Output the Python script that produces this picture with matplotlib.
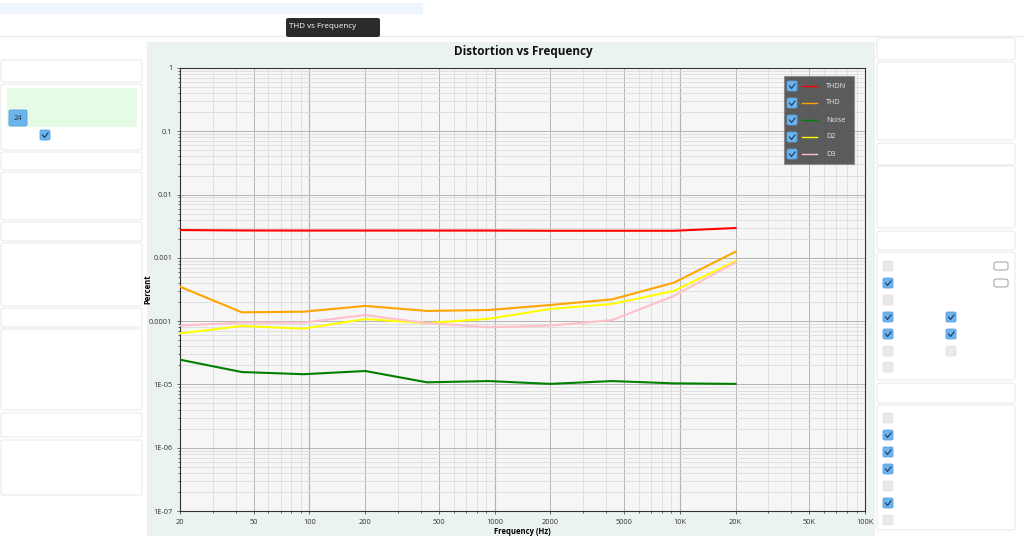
import matplotlib
matplotlib.use("Agg")
import matplotlib.pyplot as plt
from matplotlib.patches import Rectangle, FancyBboxPatch
from matplotlib.ticker import FixedLocator, NullFormatter

plt.rcParams['font.family'] = ['Open Sans', 'DejaVu Sans']

# data
freq = [20, 43.1, 92.8, 200, 431, 928, 2000, 4309, 9283, 20000]
thdn = [0.00275, 0.00271, 0.00270, 0.00270, 0.00270, 0.00270, 0.00268, 0.00268, 0.00268, 0.00296]
thd = [3.5e-4, 1.38e-4, 1.41e-4, 1.74e-4, 1.45e-4, 1.50e-4, 1.80e-4, 2.21e-4, 4.05e-4, 1.25e-3]
noise = [2.46e-5, 1.57e-5, 1.45e-5, 1.63e-5, 1.08e-5, 1.13e-5, 1.02e-5, 1.13e-5, 1.04e-5, 1.02e-5]
d2 = [6.4e-5, 8.4e-5, 7.6e-5, 1.08e-4, 9.3e-5, 1.09e-4, 1.56e-4, 1.87e-4, 3.0e-4, 8.9e-4]
d3 = [8.5e-5, 9.5e-5, 9.5e-5, 1.25e-4, 9.3e-5, 8.0e-5, 8.5e-5, 1.04e-4, 2.5e-4, 8.5e-4]

series_names = ["THDN", "THD", "Noise", "D2", "D3"]
series_colors = ["#ff0000", "#ffa500", "#008000", "#ffff00", "#ffc0cb"]

x_ticks = [20, 50, 100, 200, 500, 1000, 2000, 5000, 10000, 20000, 50000, 100000]
x_labels = ["20", "50", "100", "200", "500", "1000", "2000", "5000", "10K", "20K", "50K", "100K"]
y_ticks = [1e-7, 1e-6, 1e-5, 1e-4, 1e-3, 1e-2, 1e-1, 1]
y_labels = ["1E-07", "1E-06", "1E-05", "0.0001", "0.001", "0.01", "0.1", "1"]

W, H = 1024, 559
fig = plt.figure(figsize=(W / 100, H / 100), dpi=100)
fig.patch.set_facecolor("white")


def box(x, y, w, h, fc="white", ec="#e6e6e6", lw=0.8, z=0, r=0, alpha=1):
    # pixel coords with top-left origin
    if r:
        p = FancyBboxPatch((x / W, 1 - (y + h) / H), w / W, h / H,
                           boxstyle="round,pad=0,rounding_size=%f" % (r / W),
                           transform=fig.transFigure, fc=fc, ec=ec, lw=lw, zorder=z, alpha=alpha)
    else:
        p = Rectangle((x / W, 1 - (y + h) / H), w / W, h / H, transform=fig.transFigure,
                      fc=fc, ec=ec, lw=lw, zorder=z, alpha=alpha)
    fig.patches.append(p)


def ftext(x, y, s, **kw):
    fig.text(x / W, 1 - y / H, s, **kw)


def checkbox(x, y, on=True, size=10):
    if on:
        box(x, y, size, size, fc="#6cb4ee", ec="#5aa0dc", lw=0.6, r=2, z=3)
        fig.lines.append(plt.Line2D([(x + 2.5) / W, (x + 4.5) / W, (x + 8) / W],
                                    [1 - (y + 5) / H, 1 - (y + 7.5) / H, 1 - (y + 3) / H],
                                    transform=fig.transFigure, color="#1d3557", lw=0.8, zorder=4))
    else:
        box(x, y, size, size, fc="#e9e9e9", ec="#e0e0e0", lw=0.5, r=2, z=3)


# top bar and tab
box(0, 3, 423, 11, fc="#eef5fc", ec="none")
fig.lines.append(plt.Line2D([0, 1], [1 - 36 / H, 1 - 36 / H], transform=fig.transFigure,
                            color="#e8e8e8", lw=0.8))
box(286, 18, 94, 19, fc="#2b2b2b", ec="none", r=3, z=2)
ftext(289, 26, "THD vs Frequency", fontsize=5.8, color="white", va="center", zorder=5)

# left side panels
for y0, y1 in [(60, 82), (84, 150), (152, 170), (172, 220), (222, 241), (243, 306),
               (308, 327), (329, 410), (413, 437), (440, 495)]:
    box(1, y0, 141, y1 - y0, fc="white", ec="#e8e8e8", lw=0.7, r=3)
box(7, 88, 130, 39, fc="#e6fbe6", ec="none", z=1)
box(9, 110, 18, 16, fc="#6cb4ee", ec="#5aa0dc", lw=0.6, r=2, z=3)
ftext(18, 118, "24", fontsize=5.5, color="#1d2b3a", ha="center", va="center", zorder=5)
checkbox(40, 130)

# right side panels
for y0, y1 in [(38, 60), (62, 140), (143, 165), (166, 228), (231, 250), (252, 380),
               (383, 403), (405, 530)]:
    box(877, y0, 138, y1 - y0, fc="white", ec="#e8e8e8", lw=0.7, r=3)
for yy, on in [(261, False), (278, True), (295, False), (312, True), (329, True), (346, False), (362, False)]:
    checkbox(883, yy, on)
for yy, on in [(312, True), (329, True), (346, False)]:
    checkbox(946, yy, on)
for yy in [262, 279]:
    box(994, yy, 14, 8, fc="white", ec="#a0a0a0", lw=0.7, r=3, z=3)
for yy, on in [(413, False), (430, True), (447, True), (464, True), (481, False), (498, True), (515, False)]:
    checkbox(883, yy, on)

# chart container
box(147, 42, 728, 494, fc="#ebf3f1", ec="none", z=1)

ax = fig.add_axes([180 / W, 1 - 511 / H, 685 / W, 443 / H])
ax.set_zorder(5)
ax.set_facecolor("#f6f6f6")
ax.set_xscale("log")
ax.set_yscale("log")
ax.set_xlim(20, 100000)
ax.set_ylim(1e-7, 1)

for vals, c in zip([thdn, thd, noise, d2, d3], series_colors):
    ax.plot(freq, vals, color=c, lw=1.5, zorder=3)

ax.xaxis.set_major_locator(FixedLocator(x_ticks))
ax.set_xticklabels(x_labels)
minor_x = [m * 10 ** e for e in range(1, 6) for m in range(2, 10) if 20 <= m * 10 ** e <= 100000]
ax.xaxis.set_minor_locator(FixedLocator(minor_x))
ax.xaxis.set_minor_formatter(NullFormatter())
ax.yaxis.set_major_locator(FixedLocator(y_ticks))
ax.set_yticklabels(y_labels)
minor_y = [m * 10.0 ** e for e in range(-7, 0) for m in range(2, 10)]
ax.yaxis.set_minor_locator(FixedLocator(minor_y))
ax.yaxis.set_minor_formatter(NullFormatter())

ax.grid(True, which="major", color="#b4b4b4", lw=0.7)
ax.grid(True, which="minor", color="#dcdcdc", lw=0.6)
for v in [100, 1000, 10000]:
    ax.axvline(v, color="#9a9a9a", lw=0.8, zorder=1)
ax.tick_params(which="both", labelsize=5.3, colors="#333333", length=2, width=0.5)
ax.tick_params(which="minor", length=1.5)
for s in ax.spines.values():
    s.set_color("#333333")
    s.set_linewidth(0.8)

ax.set_xlabel("Frequency (Hz)", fontsize=5.5, fontweight="bold")
ax.set_ylabel("Percent", fontsize=5.5, fontweight="bold")
ax.xaxis.set_label_coords(0.5, -0.035)
ax.yaxis.set_label_coords(-0.041, 0.5)
ftext(523, 52, "Distortion vs Frequency", fontsize=8.5, fontweight="bold", ha="center",
      va="center", color="#111111", zorder=6)

# legend panel
box(784, 76, 70, 88, fc="#4f4f4f", ec="#8a8a8a", lw=0.8, z=10, alpha=0.92)
for i, (name, c) in enumerate(zip(series_names, series_colors)):
    yy = 86 + i * 17
    box(787, yy - 5, 10, 10, fc="#6cb4ee", ec="#5aa0dc", lw=0.6, r=2, z=11)
    fig.lines.append(plt.Line2D([789.5 / W, 791.5 / W, 795 / W],
                                [1 - yy / H, 1 - (yy + 2.5) / H, 1 - (yy - 2) / H],
                                transform=fig.transFigure, color="#1d3557", lw=0.8, zorder=12))
    fig.lines.append(plt.Line2D([802 / W, 817 / W], [1 - yy / H, 1 - yy / H],
                                transform=fig.transFigure, color=c, lw=1.0, zorder=12))
    ftext(826, yy, name, fontsize=5.2, color="#e8e8e8", va="center", zorder=12)

fig.savefig("out.png", dpi=100)
